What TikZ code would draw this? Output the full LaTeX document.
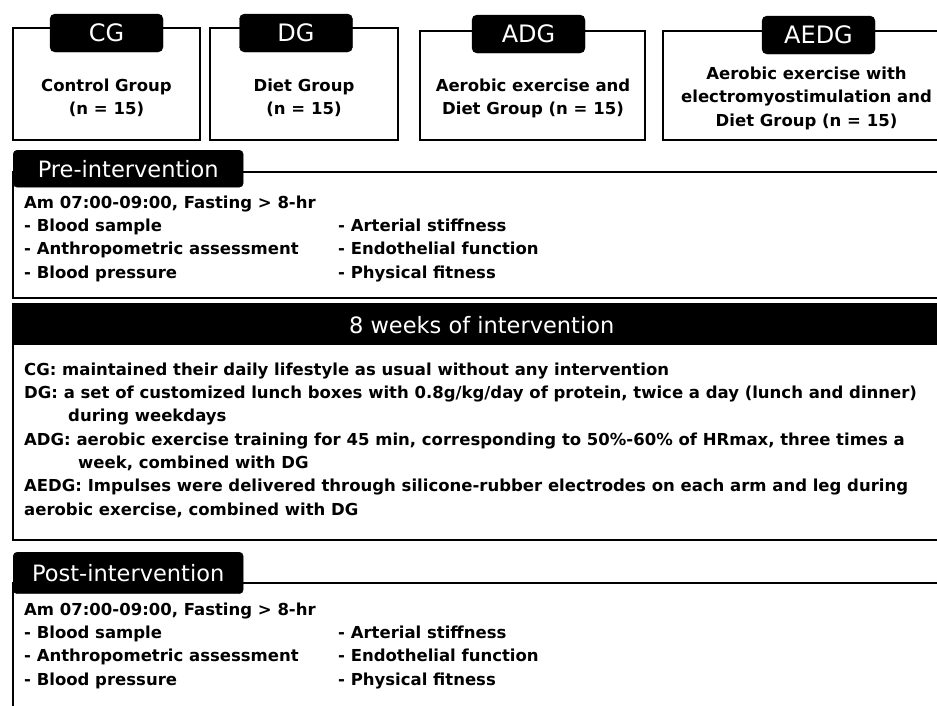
\documentclass[tikz,border=0pt]{standalone}
\usepackage{fontspec}
\setmainfont{DejaVu Sans}
\tikzset{
  bodytxt/.style = {font=\fontsize{16.5}{23.3}\selectfont\bfseries,
    inner sep=0pt, align=left},
  frame_b/.style = {draw=black, line width=2.8pt},% thick black frame
  grp_box/.style = {frame_b, rectangle, inner sep=0pt},% group frame
  tab_g/.style = {fill=black, draw=black, rounded corners=5pt, text=white,
    font=\fontsize{24}{24}\selectfont, minimum width=113pt,
    minimum height=38pt, inner sep=0pt},% group tab
  tab_s/.style = {fill=black, draw=black, rounded corners=4pt, text=white,
    font=\fontsize{22.5}{22.5}\selectfont, anchor=north west,
    text width=200pt, inner xsep=15pt, inner ysep=0pt, align=center},% section tab
  grp_t/.style = {bodytxt, align=center, anchor=base},% group text (base = last line)
}

\begin{document}
\begin{tikzpicture}[x=1pt,y=-1pt]
\useasboundingbox (0,0) rectangle (937,705);
\clip (0,0) rectangle (937,705);

% groups
\node [grp_box, minimum width=187pt, minimum height=112pt] (cg_box) at (106.5,84) {};
\node [grp_box, minimum width=188pt, minimum height=112pt] (dg_box) at (304,84) {};
\node [grp_box, minimum width=225pt, minimum height=109pt] (adg_box) at (532.5,85.5) {};
\node [grp_box, minimum width=287pt, minimum height=109pt] (aedg_box) at (806.5,85.5) {};
\node [tab_g] (cg_tab) at (106.5,33) {CG};
\node [tab_g] (dg_tab) at (296,33) {DG};
\node [tab_g] (adg_tab) at (528.5,34) {ADG};
\node [tab_g] (aedg_tab) at (818.5,35) {AEDG};
\node [grp_t] (cg_txt) at (106.5,114.5) {Control Group\\(n = 15)};
\node [grp_t] (dg_txt) at (304,114.5) {Diet Group\\(n = 15)};
\node [grp_t] (adg_txt) at (533,114.5) {Aerobic exercise and\\Diet Group (n = 15)};
\node [grp_t] (aedg_txt) at (806.5,126) {Aerobic exercise with\\electromyostimulation and\\Diet Group (n = 15)};

% pre-intervention
\draw [frame_b] (13,172) rectangle (950,298);
\node [tab_s, minimum height=37pt] (pre_tab) at (13,150) {Pre-intervention};
\node [bodytxt, anchor=base west] (pre_txt) at (24,278)
  {Am 07:00-09:00, Fasting > 8-hr\\- Blood sample\\- Anthropometric assessment\\- Blood pressure};
\node [bodytxt, anchor=base west] (pre_txt2) at (338,278)
  {- Arterial stiffness\\- Endothelial function\\- Physical fitness};

% intervention
\draw [frame_b] (13,304) rectangle (950,540);
\node [fill=black, text=white, font=\fontsize{22.5}{22.5}\selectfont, anchor=north west,
  minimum width=937pt, minimum height=41pt, inner sep=0pt] (wk_tab) at (13,304)
  {8 weeks of intervention};
\node [bodytxt, anchor=base west] (wk_txt) at (24,515)
  {CG: maintained their daily lifestyle as usual without any intervention\\
   DG: a set of customized lunch boxes with 0.8g/kg/day of protein, twice a day (lunch and dinner)\\
   \hspace*{44pt}during weekdays\\
   ADG: aerobic exercise training for 45 min, corresponding to 50\%-60\% of HRmax, three times a\\
   \hspace*{54pt}week, combined with DG\\
   AEDG: Impulses were delivered through silicone-rubber electrodes on each arm and leg during\\
   aerobic exercise, combined with DG};

% post-intervention
\draw [frame_b] (13,583) rectangle (950,760);
\node [tab_s, minimum height=41.5pt] (post_tab) at (13,552) {Post-intervention};
\node [bodytxt, anchor=base west] (post_txt) at (24,685)
  {Am 07:00-09:00, Fasting > 8-hr\\- Blood sample\\- Anthropometric assessment\\- Blood pressure};
\node [bodytxt, anchor=base west] (post_txt2) at (338,685)
  {- Arterial stiffness\\- Endothelial function\\- Physical fitness};
\end{tikzpicture}
\end{document}
